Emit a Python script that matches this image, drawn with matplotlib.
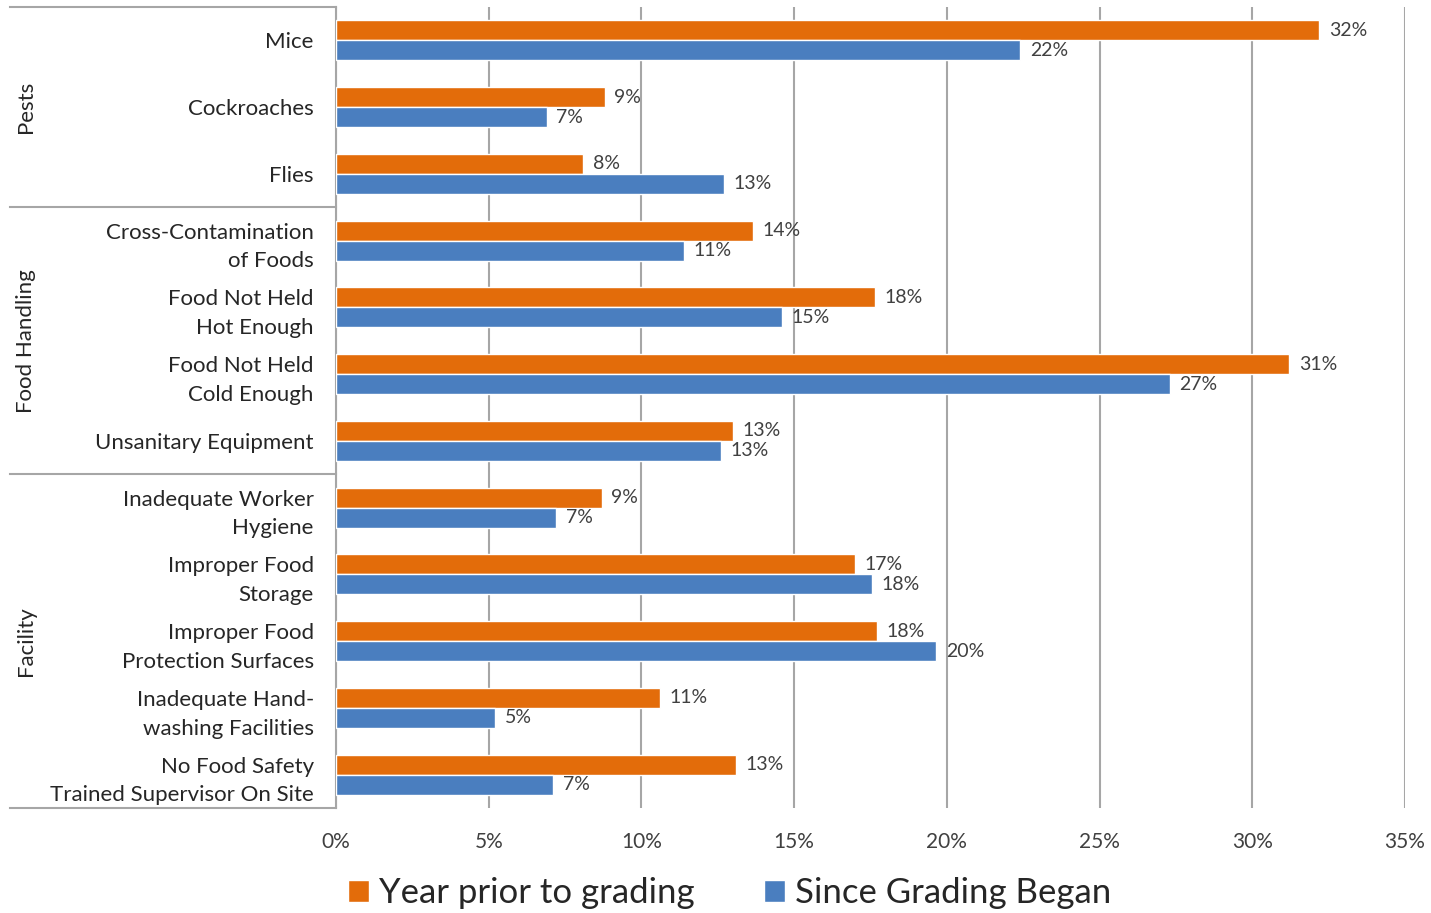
import matplotlib.pyplot as plt
from matplotlib.lines import Line2D

plt.rcParams['font.family'] = ['Lato', 'DejaVu Sans']

categories = ["Mice", "Cockroaches", "Flies",
              "Cross-Contamination\nof Foods", "Food Not Held\nHot Enough",
              "Food Not Held\nCold Enough", "Unsanitary Equipment",
              "Inadequate Worker\nHygiene", "Improper Food\nStorage",
              "Improper Food\nProtection Surfaces", "Inadequate Hand-\nwashing Facilities",
              "No Food Safety\nTrained Supervisor On Site"]
groups = ["Pests", "Food Handling", "Facility"]
group_sizes = [3, 4, 5]

year_prior = [32.2, 8.8, 8.1, 13.65, 17.65, 31.2, 13.0, 8.7, 17.0, 17.7, 10.6, 13.1]
since_grading = [22.4, 6.9, 12.7, 11.4, 14.6, 27.3, 12.6, 7.2, 17.55, 19.65, 5.2, 7.1]

orange = "#E36C0A"
blue = "#4A7EBF"

fig = plt.figure(figsize=(14.31, 9.13), dpi=100)
ax = fig.add_axes([336 / 1431, 105 / 913, 1069 / 1431, 801 / 913])

pos = list(range(len(categories)))
h = 0.3
ax.barh([p - h / 2 for p in pos], year_prior, height=h, color=orange,
        edgecolor="white", linewidth=1, label="Year prior to grading", zorder=3)
ax.barh([p + h / 2 for p in pos], since_grading, height=h, color=blue,
        edgecolor="white", linewidth=1, label="Since Grading Began", zorder=3)

for p, v in zip(pos, year_prior):
    ax.annotate(f"{round(v)}%", (v, p - h / 2), xytext=(7, 0), textcoords="offset points",
                va="center", ha="left", fontsize=14, color="#404040")
for p, v in zip(pos, since_grading):
    ax.annotate(f"{round(v)}%", (v, p + h / 2), xytext=(7, 0), textcoords="offset points",
                va="center", ha="left", fontsize=14, color="#404040")

ax.set_xlim(0, 35)
ax.set_ylim(len(categories) - 0.5, -0.5)
ax.set_xticks(range(0, 36, 5))
ax.set_xticklabels([f"{t}%" for t in range(0, 36, 5)], fontsize=15, color="#404040")
ax.set_yticks(pos)
ax.set_yticklabels(categories, fontsize=16, color="#262626", linespacing=1.55)
ax.tick_params(axis="y", length=0, pad=16)
ax.tick_params(axis="x", length=0, pad=17)
ax.grid(axis="x", color="#a6a6a6", linewidth=1.5, zorder=0)
for s in ["top", "right", "bottom"]:
    ax.spines[s].set_visible(False)
ax.spines["left"].set_color("#a6a6a6")
ax.spines["left"].set_linewidth(1.5)

# group box on the left
x0 = (10 - 336) / 1069
bounds = [-0.5]
start = 0
for g, n in zip(groups, group_sizes):
    mid = start + (n - 1) / 2
    ax.text(x0 + 0.015, mid, g, rotation=90, ha="center", va="center",
            fontsize=16, color="#262626", transform=ax.get_yaxis_transform())
    start += n
    bounds.append(start - 0.5)
for b in bounds:
    ax.add_line(Line2D([x0, 0], [b, b], color="#a6a6a6", linewidth=1.5,
                       transform=ax.get_yaxis_transform(), clip_on=False))

fig.legend(loc="center", bbox_to_anchor=(0.51, 0.022), ncol=2, frameon=False,
           fontsize=25, handlelength=0.6, handleheight=0.6, handletextpad=0.3,
           columnspacing=2.0, labelcolor="#262626")

fig.savefig("out.png", dpi=100)
